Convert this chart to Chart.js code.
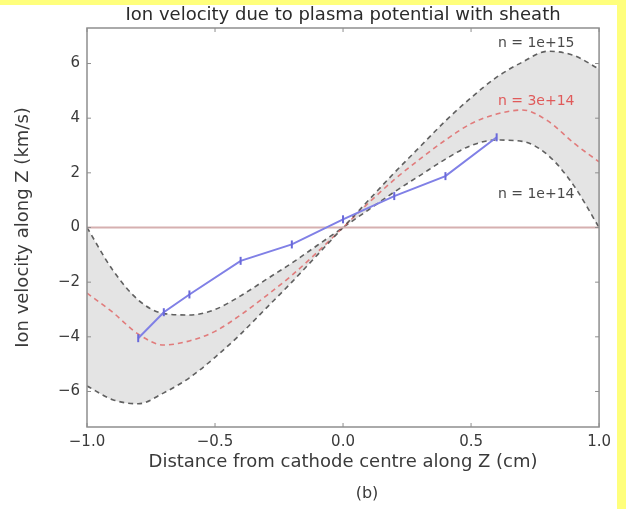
<!DOCTYPE html>
<html>
<head>
<meta charset="utf-8">
<script src="https://cdn.jsdelivr.net/npm/chart.js@4.4.0/dist/chart.umd.min.js"></script>
<style>
  html, body { margin: 0; padding: 0; background: #ffff7c; }
  #wrap { position: absolute; left: 0; top: 5px; width: 617px; height: 504px; background: #fff; }
</style>
</head>
<body>
<div id="wrap"><canvas id="sheathCanvas" width="617" height="504"></canvas></div>
<script>
// position along Z (cm) for the model curves
var zGrid = [-1.0, -0.9, -0.8, -0.7, -0.6, -0.5, -0.4, -0.3, -0.2, -0.1, 0.0,
             0.1, 0.2, 0.3, 0.4, 0.5, 0.6, 0.7, 0.8, 0.9, 1.0];
// model ion velocity (km/s) for three densities
var vHigh = [-5.8, -6.3, -6.45, -6.05, -5.5, -4.75, -3.9, -2.95, -2.0, -1.0, 0,
             1.0, 2.0, 2.95, 3.9, 4.75, 5.5, 6.05, 6.45, 6.3, 5.8];   // n = 1e+15
var vMid  = [-2.4, -3.1, -3.9, -4.3, -4.15, -3.8, -3.2, -2.5, -1.75, -0.9, 0,
             0.9, 1.75, 2.5, 3.2, 3.8, 4.15, 4.3, 3.9, 3.1, 2.4];     // n = 3e+14
var vLow  = [0, -1.55, -2.65, -3.15, -3.2, -3.0, -2.5, -1.9, -1.3, -0.65, 0,
             0.65, 1.3, 1.9, 2.5, 3.0, 3.2, 3.15, 2.65, 1.55, 0];      // n = 1e+14

// measured points
var measZ = [-0.8, -0.7, -0.6, -0.4, -0.2, 0.0, 0.2, 0.4, 0.6];
var measV = [-4.05, -3.1, -2.45, -1.22, -0.62, 0.3, 1.15, 1.88, 3.3];

// zero reference
var zeroZ = [-1.0, 1.0];
var zeroV = [0, 0];

var xTicks = [-1.0, -0.5, 0.0, 0.5, 1.0];
var yTicks = [-6, -4, -2, 0, 2, 4, 6];

var curveNames = ['n = 1e+15', 'n = 3e+14', 'n = 1e+14'];

function pts(xs, ys) {
  return xs.map(function(x, i) { return { x: x, y: ys[i] }; });
}
function minus(v, d) {
  var s = d ? Math.abs(v).toFixed(d) : String(Math.abs(v));
  return (v < 0 ? '\u2212' : '') + s;
}

var FONT = 'DejaVu Sans';

var decor = {
  id: 'decor',
  afterDraw: function(chart) {
    var ctx = chart.ctx, a = chart.chartArea;
    var xs = chart.scales.x, ys = chart.scales.y;
    ctx.save();
    // axes frame
    ctx.strokeStyle = '#8e8e8e';
    ctx.lineWidth = 1.5;
    ctx.strokeRect(a.left, a.top, a.right - a.left, a.bottom - a.top);
    // inward ticks on every side
    ctx.lineWidth = 1;
    ctx.beginPath();
    xTicks.forEach(function(v) {
      var p = xs.getPixelForValue(v);
      ctx.moveTo(p, a.bottom); ctx.lineTo(p, a.bottom - 4);
      ctx.moveTo(p, a.top); ctx.lineTo(p, a.top + 4);
    });
    yTicks.forEach(function(v) {
      var p = ys.getPixelForValue(v);
      ctx.moveTo(a.left, p); ctx.lineTo(a.left + 4, p);
      ctx.moveTo(a.right, p); ctx.lineTo(a.right - 4, p);
    });
    ctx.stroke();

    // curve labels
    ctx.font = '14px "' + FONT + '"';
    ctx.textAlign = 'left';
    ctx.textBaseline = 'middle';
    var labelAt = [[0.605, 6.73, '#4a4a4a'], [0.605, 4.6, '#e05a5a'], [0.605, 1.21, '#4a4a4a']];
    curveNames.forEach(function(t, i) {
      ctx.fillStyle = labelAt[i][2];
      ctx.fillText(t, xs.getPixelForValue(labelAt[i][0]), ys.getPixelForValue(labelAt[i][1]));
    });

    // titles
    var midX = (a.left + a.right) / 2;
    ctx.fillStyle = '#2b2b2b';
    ctx.textAlign = 'center';
    ctx.font = '18px "' + FONT + '"';
    ctx.fillText('Ion velocity due to plasma potential with sheath', midX, 10);
    ctx.fillStyle = '#3a3a3a';
    ctx.fillText('Distance from cathode centre along Z (cm)', midX, 457);
    ctx.save();
    ctx.translate(23, (a.top + a.bottom) / 2);
    ctx.rotate(-Math.PI / 2);
    ctx.fillText('Ion velocity along Z (km/s)', 0, 0);
    ctx.restore();
    ctx.font = '16px "' + FONT + '"';
    ctx.fillText('(b)', 367, 489);
    ctx.restore();
  }
};

var dashGrey = 'rgba(70,70,70,0.85)';

new Chart(document.getElementById('sheathCanvas').getContext('2d'), {
  type: 'line',
  data: {
    datasets: [
      {
        label: 'measured',
        data: pts(measZ, measV),
        borderColor: 'rgb(128,128,230)',
        borderWidth: 2,
        pointStyle: 'line',
        rotation: 90,
        pointRadius: 4,
        pointBorderWidth: 2,
        pointBorderColor: 'rgb(105,105,218)',
        fill: false
      },
      {
        label: 'zero',
        data: pts(zeroZ, zeroV),
        borderColor: 'rgb(214,176,176)',
        borderWidth: 2,
        pointRadius: 0,
        fill: false
      },
      {
        label: curveNames[0],
        data: pts(zGrid, vHigh),
        borderColor: dashGrey,
        borderWidth: 1.6,
        borderDash: [5, 4],
        pointRadius: 0,
        cubicInterpolationMode: 'monotone',
        fill: { target: 4 },
        backgroundColor: '#e4e4e4'
      },
      {
        label: curveNames[1],
        data: pts(zGrid, vMid),
        borderColor: 'rgba(225,105,105,0.85)',
        borderWidth: 1.6,
        borderDash: [5, 4],
        pointRadius: 0,
        cubicInterpolationMode: 'monotone',
        fill: false
      },
      {
        label: curveNames[2],
        data: pts(zGrid, vLow),
        borderColor: dashGrey,
        borderWidth: 1.6,
        borderDash: [5, 4],
        pointRadius: 0,
        cubicInterpolationMode: 'monotone',
        fill: false
      }
    ]
  },
  options: {
    responsive: false,
    animation: false,
    devicePixelRatio: 1,
    layout: { padding: { left: 0, top: 23, right: 13, bottom: 0 } },
    plugins: {
      legend: { display: false },
      tooltip: { enabled: false },
      filler: { drawTime: 'beforeDatasetsDraw' }
    },
    scales: {
      x: {
        type: 'linear',
        min: -1.0,
        max: 1.0,
        grid: { display: false, drawTicks: false },
        border: { display: false },
        afterBuildTicks: function(s) { s.ticks = xTicks.map(function(v) { return { value: v }; }); },
        afterFit: function(s) { s.height = 82; },
        ticks: {
          padding: 6,
          maxRotation: 0,
          autoSkip: false,
          color: '#3a3a3a',
          font: { family: FONT, size: 15 },
          callback: function(v) { return minus(v, 1); }
        }
      },
      y: {
        type: 'linear',
        min: -7.3,
        max: 7.3,
        grid: { display: false, drawTicks: false },
        border: { display: false },
        afterBuildTicks: function(s) { s.ticks = yTicks.map(function(v) { return { value: v }; }); },
        afterFit: function(s) { s.width = 87; },
        ticks: {
          padding: 7,
          autoSkip: false,
          color: '#3a3a3a',
          font: { family: FONT, size: 15 },
          callback: function(v) { return minus(v); }
        }
      }
    }
  },
  plugins: [decor]
});
</script>
</body>
</html>
